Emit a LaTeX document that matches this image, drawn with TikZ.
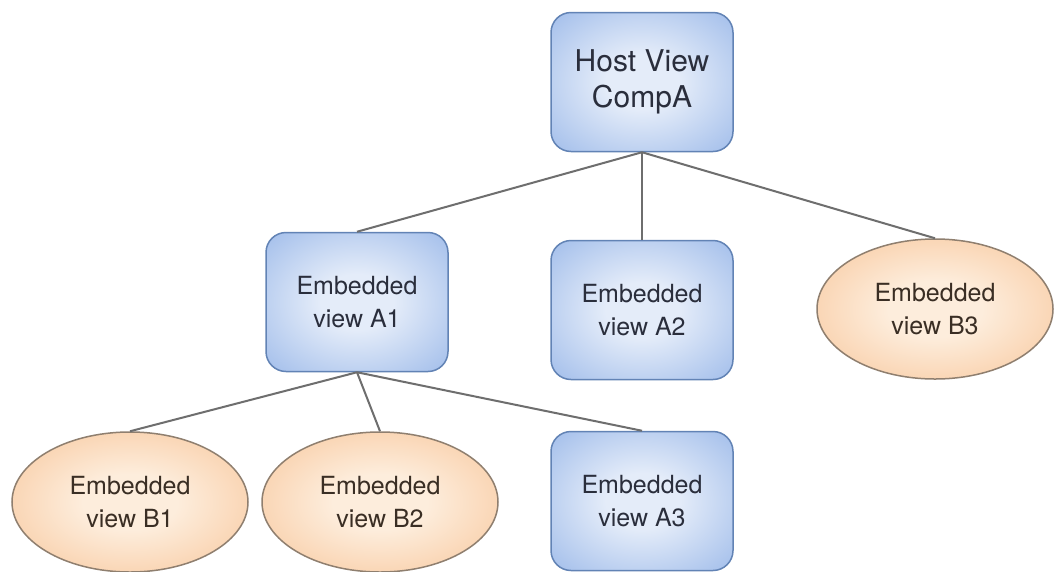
\documentclass[tikz,border=0pt]{standalone}
\usepackage{fontspec}
\setmainfont{TeX Gyre Heros}
\usetikzlibrary{shapes.geometric}
\definecolor{bin}{HTML}{E4ECF9}
\definecolor{bout}{HTML}{7CA3E2}
\definecolor{bborder}{HTML}{6283B5}
\definecolor{oin}{HTML}{FDEDDC}
\definecolor{oout}{HTML}{F5B076}
\definecolor{oborder}{HTML}{8F7F6F}
\definecolor{btext}{HTML}{2A2E3C}
\definecolor{otext}{HTML}{3A2E24}
\definecolor{edgecol}{HTML}{6E6E6E}
\pgfdeclareradialshading{bluesh}{\pgfpoint{0bp}{0bp}}{color(0bp)=(bin); color(10bp)=(bin); color(50bp)=(bout); color(100bp)=(bout)}
\pgfdeclareradialshading{orangesh}{\pgfpoint{0bp}{0bp}}{color(0bp)=(oin); color(10bp)=(oin); color(50bp)=(oout); color(100bp)=(oout)}
\tikzset{
  x=1pt, y=-1pt,
  bluebox/.style={draw=bborder, line width=1.5pt, rounded corners=20pt, shading=bluesh,
    minimum width=182pt, minimum height=139pt, align=center, text=btext,
    font=\fontsize{25}{33}\selectfont, inner sep=0pt},
  hostbox/.style={bluebox, font=\fontsize{30}{36}\selectfont},
  orangeell/.style={draw=oborder, line width=1.5pt, ellipse, shading=orangesh,
    minimum width=236pt, minimum height=140pt, inner sep=0pt, align=center, text=otext,
    font=\fontsize{25}{33}\selectfont},
  link/.style={draw=edgecol, line width=2pt}
}
\begin{document}
\begin{tikzpicture}
\useasboundingbox (0,0) rectangle (1060,571);
\fill[white] (0,0) rectangle (1060,571);
\node[hostbox] (host) at (642,82) {Host View\\CompA};
\node[bluebox] (A1) at (357,302) {Embedded\\view A1};
\node[bluebox] (A2) at (642,310) {Embedded\\view A2};
\node[bluebox] (A3) at (642,501) {Embedded\\view A3};
\node[orangeell] (B3) at (935,309) {Embedded\\view B3};
\node[orangeell] (B1) at (130,502) {Embedded\\view B1};
\node[orangeell] (B2) at (380,502) {Embedded\\view B2};
\draw[link] (host.south) -- (A1.north);
\draw[link] (host.south) -- (A2.north);
\draw[link] (host.south) -- (B3.north);
\draw[link] (A1.south) -- (B1.north);
\draw[link] (A1.south) -- (B2.north);
\draw[link] (A1.south) -- (A3.north);
\end{tikzpicture}
\end{document}
